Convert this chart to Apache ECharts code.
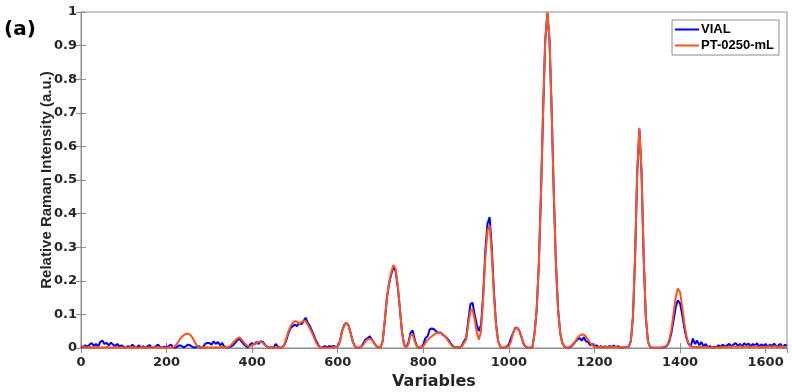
<!DOCTYPE html>
<html>
<head>
<meta charset="utf-8">
<script src="https://cdn.jsdelivr.net/npm/echarts@6/dist/echarts.min.js"></script>
<style>
  html, body { margin: 0; padding: 0; background: #fff; }
  #chart { width: 792px; height: 392px; }
</style>
</head>
<body>
<div id="chart"></div>
<script>
// variables axis, step 5 from 0 to 1650
const variables = [];
for (let v = 0; v <= 1650; v += 5) variables.push(v);

// VIAL spectrum (one row = 100 variables)
const vial = [
  0.005,0.002,0.008,0.003,0.010,0.015,0.006,0.012,0.004,0.018,0.022,0.012,0.015,0.008,0.016,0.010,0.006,0.012,0.004,0.008,
  0.003,0.001,0.006,0.002,0.010,0.004,0.001,0.008,0.002,0.005,0.001,0.004,0.009,0.002,0.001,0.005,0.010,0.003,0.001,0.004,
  0.002,0.006,0.010,0.003,0.001,0.004,0.008,0.006,0.002,0.005,0.010,0.008,0.004,0.001,0.003,0.006,0.001,0.002,0.012,0.015,
  0.015,0.010,0.020,0.012,0.018,0.008,0.015,0.004,0.001,0.002,0.004,0.008,0.015,0.022,0.028,0.020,0.012,0.006,0.002,0.010,
  0.015,0.010,0.018,0.012,0.020,0.018,0.010,0.004,0.001,0.002,0.001,0.012,0.004,0.001,0.002,0.008,0.025,0.045,0.060,0.065,
  0.070,0.065,0.075,0.070,0.080,0.090,0.075,0.065,0.050,0.035,0.020,0.008,0.001,0.002,0.006,0.002,0.006,0.003,0.006,0.004,
  0.004,0.020,0.050,0.068,0.075,0.068,0.045,0.020,0.005,0.001,0.001,0.004,0.015,0.025,0.030,0.035,0.025,0.015,0.006,0.002,
  0.002,0.020,0.080,0.150,0.190,0.220,0.240,0.230,0.185,0.120,0.050,0.010,0.002,0.015,0.045,0.052,0.025,0.005,0.001,0.002,
  0.010,0.030,0.035,0.055,0.058,0.056,0.050,0.045,0.046,0.040,0.035,0.030,0.022,0.012,0.005,0.001,0.002,0.001,0.006,0.020,
  0.030,0.080,0.130,0.135,0.100,0.070,0.050,0.070,0.160,0.290,0.370,0.390,0.300,0.170,0.070,0.020,0.004,0.001,0.001,0.005,
  0.010,0.030,0.045,0.060,0.060,0.050,0.030,0.010,0.003,0.001,0.001,0.002,0.044,0.114,0.250,0.458,0.705,0.915,0.995,0.915,
  0.705,0.458,0.250,0.114,0.044,0.014,0.004,0.001,0.001,0.004,0.010,0.018,0.025,0.030,0.022,0.032,0.020,0.018,0.008,0.012,
  0.004,0.008,0.002,0.006,0.001,0.005,0.002,0.006,0.003,0.007,0.002,0.006,0.001,0.002,0.001,0.003,0.004,0.020,0.092,0.272,
  0.524,0.650,0.524,0.272,0.092,0.020,0.003,0.001,0.001,0.001,0.001,0.001,0.002,0.003,0.007,0.020,0.046,0.083,0.122,0.142,
  0.133,0.100,0.060,0.030,0.012,0.005,0.028,0.012,0.022,0.008,0.018,0.004,0.012,0.002,0.006,0.001,0.004,0.002,0.008,0.003,
  0.010,0.004,0.008,0.012,0.005,0.010,0.015,0.006,0.012,0.004,0.014,0.008,0.013,0.005,0.012,0.007,0.014,0.004,0.011,0.006,
  0.012,0.003,0.010,0.006,0.013,0.004,0.008,0.012,0.003,0.010,0.006
];

// PT-0250-mL spectrum
const pt0250 = [
  0.008,0.004,0.002,0.001,0.003,0.002,0.001,0.002,0.003,0.001,0.002,0.001,0.003,0.002,0.001,0.002,0.001,0.002,0.001,0.002,
  0.001,0.002,0.001,0.002,0.001,0.002,0.001,0.001,0.002,0.001,0.002,0.001,0.001,0.002,0.001,0.002,0.001,0.002,0.001,0.001,
  0.001,0.002,0.001,0.002,0.006,0.014,0.024,0.032,0.038,0.042,0.043,0.040,0.032,0.020,0.008,0.002,0.001,0.002,0.001,0.002,
  0.001,0.002,0.001,0.002,0.001,0.002,0.003,0.002,0.001,0.003,0.008,0.015,0.022,0.028,0.032,0.026,0.018,0.010,0.006,0.005,
  0.008,0.012,0.014,0.018,0.018,0.015,0.008,0.003,0.001,0.001,0.002,0.001,0.002,0.001,0.002,0.010,0.030,0.050,0.065,0.075,
  0.080,0.078,0.072,0.076,0.082,0.080,0.070,0.058,0.045,0.030,0.015,0.005,0.001,0.001,0.001,0.001,0.001,0.001,0.002,0.003,
  0.003,0.018,0.048,0.066,0.075,0.068,0.045,0.020,0.005,0.001,0.001,0.003,0.010,0.020,0.026,0.028,0.024,0.015,0.006,0.001,
  0.002,0.020,0.082,0.152,0.195,0.225,0.247,0.238,0.190,0.122,0.050,0.010,0.002,0.010,0.038,0.040,0.020,0.004,0.001,0.002,
  0.005,0.015,0.024,0.030,0.035,0.040,0.044,0.046,0.045,0.042,0.036,0.028,0.018,0.009,0.003,0.001,0.001,0.001,0.004,0.015,
  0.025,0.070,0.110,0.115,0.085,0.045,0.025,0.050,0.150,0.270,0.350,0.365,0.280,0.160,0.065,0.020,0.004,0.001,0.001,0.004,
  0.005,0.020,0.045,0.058,0.060,0.048,0.030,0.012,0.003,0.001,0.001,0.002,0.044,0.114,0.250,0.458,0.707,0.917,1.000,0.917,
  0.707,0.458,0.250,0.114,0.044,0.014,0.004,0.001,0.002,0.006,0.012,0.020,0.030,0.037,0.040,0.040,0.034,0.025,0.015,0.008,
  0.004,0.003,0.002,0.003,0.001,0.002,0.003,0.002,0.004,0.002,0.003,0.002,0.001,0.002,0.001,0.002,0.005,0.020,0.094,0.275,
  0.527,0.655,0.527,0.275,0.094,0.020,0.003,0.001,0.001,0.001,0.001,0.001,0.002,0.005,0.009,0.025,0.057,0.104,0.152,0.177,
  0.166,0.124,0.074,0.036,0.014,0.005,0.003,0.004,0.002,0.004,0.003,0.002,0.003,0.002,0.001,0.002,0.001,0.002,0.001,0.002,
  0.002,0.003,0.002,0.004,0.003,0.005,0.004,0.003,0.005,0.003,0.004,0.005,0.003,0.004,0.003,0.005,0.004,0.003,0.004,0.003,
  0.004,0.003,0.005,0.003,0.004,0.005,0.003,0.004,0.005,0.003,0.004
];

const xTicks = { min: 0, max: 1650, interval: 200 };
const yTicks = { min: 0, max: 1, interval: 0.1 };

const textColor = '#262626';
const frameColor = '#8c8c8c';
const wideFont = '"DejaVu Sans", sans-serif';
const narrowFont = '"Liberation Sans", Arial, sans-serif';

const chart = echarts.init(document.getElementById('chart'));

const pairs = (ys) => variables.map((v, i) => [v, ys[i]]);

chart.setOption({
  animation: false,
  backgroundColor: '#fff',
  textStyle: { fontFamily: wideFont },
  graphic: [{
    type: 'text', left: 4, top: 20,
    style: { text: '(a)', font: 'bold 20px ' + wideFont, fill: '#000' }
  }],
  grid: {
    left: 81, top: 12, width: 706, height: 336,
    outerBoundsMode: 'none', containLabel: false,
    show: true, borderColor: frameColor, borderWidth: 1
  },
  legend: {
    right: 13, top: 20,
    orient: 'vertical',
    backgroundColor: '#fff',
    borderColor: frameColor, borderWidth: 1, borderRadius: 0,
    padding: [3, 5, 3, 2],
    itemGap: 3,
    itemWidth: 24, itemHeight: 2,
    textStyle: { fontWeight: 'bold', fontSize: 13, color: '#000', fontFamily: narrowFont, padding: [0, 0, 0, -3] },
    data: ['VIAL', 'PT-0250-mL']
  },
  xAxis: [{
    type: 'value', ...xTicks,
    name: 'Variables', nameLocation: 'middle', nameGap: 26, nameMoveOverlap: false,
    nameTextStyle: { fontWeight: 'bold', fontSize: 16, color: textColor, fontFamily: wideFont },
    axisLine: { lineStyle: { color: frameColor } },
    axisTick: { inside: true, length: 5, lineStyle: { color: frameColor } },
    axisLabel: {
      fontWeight: 'bold', fontSize: 13, color: textColor, margin: 8, showMaxLabel: false,
      formatter: (v) => String(v)
    },
    splitLine: { show: false }
  }, {
    type: 'value', ...xTicks, position: 'top',
    axisLine: { lineStyle: { color: frameColor } },
    axisTick: { inside: true, length: 5, lineStyle: { color: frameColor } },
    axisLabel: { show: false },
    splitLine: { show: false }
  }],
  yAxis: [{
    type: 'value', ...yTicks,
    name: 'Relative Raman Intensity (a.u.)', nameLocation: 'middle', nameGap: 27, nameMoveOverlap: false,
    nameTextStyle: { fontWeight: 'bold', fontSize: 15, color: textColor, fontFamily: narrowFont },
    axisLine: { show: true, lineStyle: { color: frameColor } },
    axisTick: { show: true, inside: true, length: 5, lineStyle: { color: frameColor } },
    axisLabel: {
      fontWeight: 'bold', fontSize: 13, color: textColor, margin: 4,
      formatter: (v) => String(Math.round(v * 10) / 10)
    },
    splitLine: { show: false }
  }, {
    type: 'value', ...yTicks, position: 'right',
    axisLine: { show: true, lineStyle: { color: frameColor } },
    axisTick: { show: true, inside: true, length: 5, lineStyle: { color: frameColor } },
    axisLabel: { show: false },
    splitLine: { show: false }
  }],
  series: [{
    name: 'VIAL', type: 'line', symbol: 'none',
    lineStyle: { color: '#0000ff', width: 2 },
    itemStyle: { color: '#0000ff' },
    data: pairs(vial)
  }, {
    name: 'PT-0250-mL', type: 'line', symbol: 'none',
    lineStyle: { color: '#ff5319', width: 2 },
    itemStyle: { color: '#ff5319' },
    data: pairs(pt0250)
  }]
});
</script>
</body>
</html>
